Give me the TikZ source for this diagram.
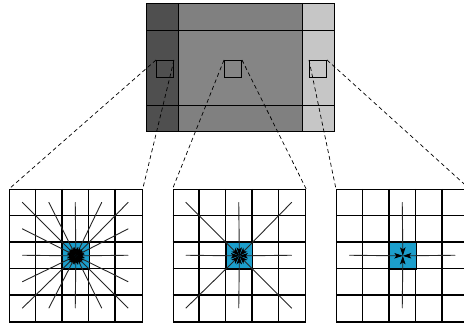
\documentclass[tikz,border=0pt]{standalone}
\usetikzlibrary{arrows.meta}
\definecolor{darkcol}{HTML}{4F4F4F}
\definecolor{midcol}{HTML}{808080}
\definecolor{midcenter}{HTML}{858585}
\definecolor{lightcol}{HTML}{C6C6C6}
\definecolor{cellblue}{HTML}{1C9ECB}
\tikzset{
  frame/.style={draw=black, line width=1pt},
  probe/.style={draw=black, line width=1pt, minimum size=17pt, inner sep=0pt, anchor=north west},
  gridbox/.style={draw=black, line width=1.2pt, minimum size=132.5pt, inner sep=0pt, anchor=north west},
  gridline/.style={draw=black, line width=1.2pt},
  centercell/.style={draw=black, line width=1.2pt, fill=cellblue, minimum size=26.5pt, inner sep=0pt, anchor=north west},
  flow/.style={draw=black!85, line width=0.9pt, -{Stealth[length=8.5pt,width=5.5pt,inset=2pt,black]}},
  zoomline/.style={draw=black, line width=0.7pt, dash pattern=on 4pt off 3pt}
}
\begin{document}
\begin{tikzpicture}[x=1pt,y=-1pt]
\clip (0,0) rectangle (464,323);
\useasboundingbox (0,0) rectangle (464,323);
% top overview picture
\fill[darkcol] (146,4) rectangle (178,132);
\fill[midcol] (178,4) rectangle (302,132);
\fill[midcenter] (178,31) rectangle (302,106);
\fill[lightcol] (302,4) rectangle (334,132);
\draw[frame] (146,4) rectangle (334,132);
\draw[frame] (178,4) -- (178,132);
\draw[frame] (302,4) -- (302,132);
\draw[frame] (146,31) -- (334,31);
\draw[frame] (146,106) -- (334,106);
% probe squares
\node[probe] (s1) at (156,60) {};
\node[probe] (s2) at (224,60) {};
\node[probe] (s3) at (309,60) {};
% grids
\node[gridbox] (g1) at (9,189) {};
\node[gridbox] (g2) at (172.5,189) {};
\node[gridbox] (g3) at (336,189) {};
\foreach \x in {9,172.5,336} {
  \foreach \i in {1,...,4} {
    \draw[gridline] (\x+\i*26.5,189) -- ++(0,132.5);
    \draw[gridline] (\x,189+\i*26.5) -- ++(132.5,0);
  }
}
\node[centercell] (c1) at (9+53,189+53) {};
\node[centercell] (c2) at (172.5+53,189+53) {};
\node[centercell] (c3) at (336+53,189+53) {};
% left grid: 16 directions
\foreach \i/\j in {0/0,1/0,2/0,3/0,4/0,0/1,4/1,0/2,4/2,0/3,4/3,0/4,1/4,2/4,3/4,4/4} {
  \coordinate (a) at (9+\i*26.5+13.25,189+\j*26.5+13.25);
  \draw[flow] (a) -- (c1.center);
}
% middle grid: 8 directions
\foreach \i/\j in {0/0,2/0,4/0,0/2,4/2,0/4,2/4,4/4} {
  \coordinate (b) at (172.5+\i*26.5+13.25,189+\j*26.5+13.25);
  \draw[flow] (b) -- (c2.center);
}
% right grid: 4 directions
\foreach \i/\j in {2/0,0/2,4/2,2/4} {
  \coordinate (d) at (336+\i*26.5+13.25,189+\j*26.5+13.25);
  \draw[flow] (d) -- (c3.center);
}
% dashed zoom lines
\draw[zoomline] (s1.north west) -- (g1.north west);
\draw[zoomline] (s1.north east) -- (g1.north east);
\draw[zoomline] (s2.north west) -- (g2.north west);
\draw[zoomline] (s2.north east) -- (g2.north east);
\draw[zoomline] (s3.north west) -- (g3.north west);
\draw[zoomline] (s3.north east) -- (g3.north east);
\end{tikzpicture}
\end{document}
